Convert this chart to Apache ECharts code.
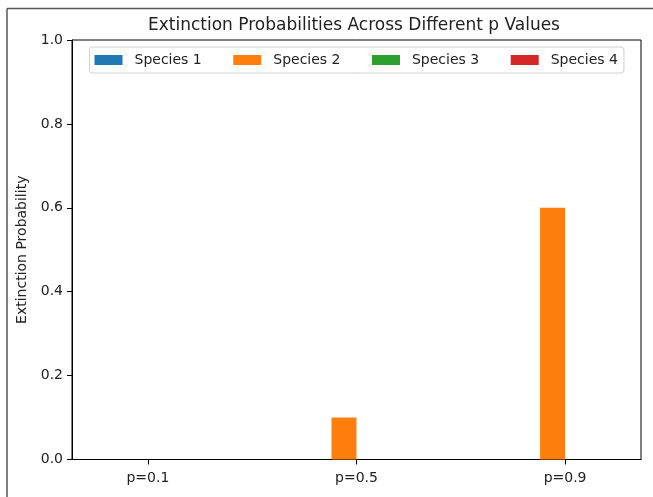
<!DOCTYPE html>
<html>
<head>
<meta charset="utf-8">
<script src="https://cdn.jsdelivr.net/npm/echarts@6/dist/echarts.min.js"></script>
<style>
  html, body { margin: 0; padding: 0; background: #fff; }
  #chart { width: 653px; height: 497px; }
</style>
</head>
<body>
<div id="chart"></div>
<script>
const categories = ['p=0.1', 'p=0.5', 'p=0.9'];
const speciesNames = ['Species 1', 'Species 2', 'Species 3', 'Species 4'];
const species1 = [0, 0, 0];
const species2 = [0, 0.1, 0.6];
const species3 = [0, 0, 0];
const species4 = [0, 0, 0];
const yTicks = [0, 0.2, 0.4, 0.6, 0.8, 1.0];
const colors = ['#1f77b4', '#ff7f0e', '#2ca02c', '#d62728'];

const allValues = [species1, species2, species3, species4];
const barW = 0.12;                 // bar width in category units
const offsets = [-1.5, -0.5, 0.5, 1.5].map(k => k * barW);
const xMin = -2.2 * barW - 0.1;
const xMax = (categories.length - 1) + 2.2 * barW + 0.1;

const FONT = 'DejaVu Sans';
const textColor = '#222';

const chart = echarts.init(document.getElementById('chart'), null, { renderer: 'canvas' });

const series = allValues.map((vals, si) => ({
  name: speciesNames[si],
  type: 'bar',
  barWidth: 25,
  barGap: '-100%',
  itemStyle: { color: colors[si] },
  data: vals.map((v, ci) => [ci + offsets[si], v])
}));

chart.setOption({
  animation: false,
  backgroundColor: '#fff',
  textStyle: { fontFamily: FONT },
  title: {
    text: 'Extinction Probabilities Across Different p Values',
    left: 148,
    top: 17,
    padding: 0,
    textStyle: { fontFamily: FONT, fontSize: 17, fontWeight: 'normal', color: textColor }
  },
  legend: {
    left: 89.5,
    top: 47,
    orient: 'horizontal',
    itemWidth: 28,
    itemHeight: 10,
    itemGap: 31.5,
    padding: [6, 6, 6, 5],
    borderColor: '#d0d0d0',
    borderWidth: 1,
    borderRadius: 3,
    backgroundColor: 'rgba(255,255,255,0.8)',
    icon: 'rect',
    data: speciesNames,
    textStyle: { fontFamily: FONT, fontSize: 14, color: textColor, padding: [0, 0, 0, 7] }
  },
  grid: {
    left: 72, right: 12, top: 40, bottom: 37.5,
    show: true, borderColor: '#000', borderWidth: 1, backgroundColor: 'transparent'
  },
  xAxis: {
    type: 'value',
    min: xMin,
    max: xMax,
    splitLine: { show: false },
    axisLine: { show: true, onZero: false, lineStyle: { color: '#000', width: 1 } },
    axisTick: { show: true, customValues: categories.map((c, i) => i), length: 5, lineStyle: { color: '#000' } },
    axisLabel: {
      customValues: categories.map((c, i) => i),
      formatter: v => categories[Math.round(v)],
      fontFamily: FONT, fontSize: 14, color: textColor, margin: 12
    }
  },
  yAxis: {
    type: 'value',
    min: 0,
    max: 1,
    interval: 0.2,
    name: 'Extinction Probability',
    nameLocation: 'middle',
    nameRotate: 90,
    nameGap: 40,
    nameTextStyle: { fontFamily: FONT, fontSize: 14, color: textColor },
    splitLine: { show: false },
    axisLine: { show: true, onZero: false, lineStyle: { color: '#000', width: 1 } },
    axisTick: { show: true, length: 5, lineStyle: { color: '#000' } },
    axisLabel: {
      customValues: yTicks,
      formatter: v => v.toFixed(1),
      fontFamily: FONT, fontSize: 14, color: textColor, margin: 9
    }
  },
  graphic: [
    { type: 'line', shape: { x1: 7, y1: 8.5, x2: 653, y2: 8.5 }, style: { stroke: '#555', lineWidth: 1.5 }, silent: true },
    { type: 'line', shape: { x1: 7, y1: 8.5, x2: 7, y2: 497 }, style: { stroke: '#555', lineWidth: 1.5 }, silent: true }
  ],
  series: series
});
</script>
</body>
</html>
